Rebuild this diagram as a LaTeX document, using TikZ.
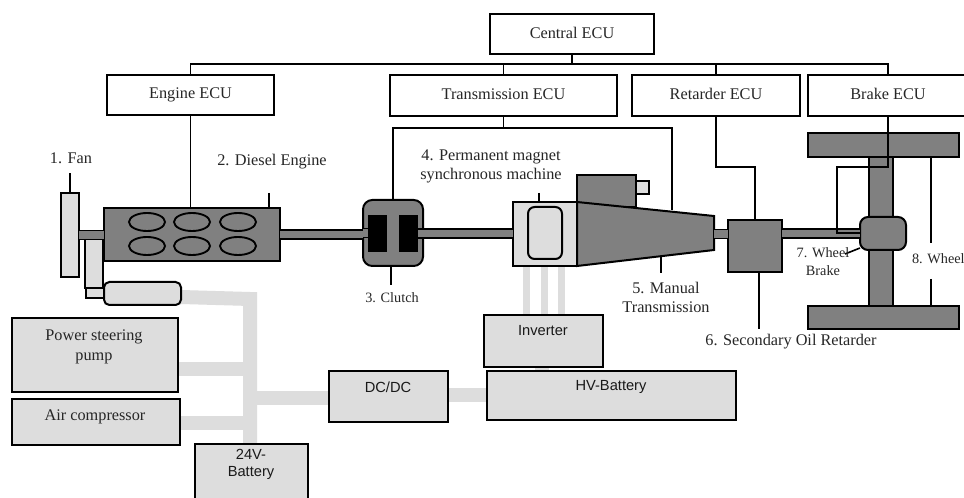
\documentclass[tikz,border=0pt]{standalone}
\usepackage{fontspec}
\setmainfont{Liberation Serif}
\setsansfont{Liberation Sans}
\usetikzlibrary{calc}
\definecolor{darkfill}{HTML}{808080}
\definecolor{lightfill}{HTML}{DDDDDD}
\pgfdeclarelayer{paper}
\pgfdeclarelayer{bands}
\pgfsetlayers{paper,bands,main}
\tikzset{
  every node/.style={inner sep=0pt,outer sep=0pt},
  ecu/.style={draw=black,fill=white,line width=0.9pt,text=black!85,font=\fontsize{12.2}{14.25}\selectfont},
  dark/.style={draw=black,fill=darkfill,line width=1.5pt},
  light/.style={draw=black,fill=lightfill,line width=1.5pt},
  blackblock/.style={draw=none,fill=black},
  rnd/.style={rounded corners=4pt},
  wire/.style={draw=black,line width=0.9pt},
  stub/.style={draw=black,line width=1.2pt},
  shaft/.style={draw=black,line width=1.35pt,double=darkfill,double distance=5.4pt},
  band/.style={draw=lightfill,line width=10.5pt},
  thinband/.style={draw=lightfill,line width=5.2pt},
  lab/.style={text=black!85,align=center,font=\fontsize{12.2}{14.25}\selectfont},
  smalllab/.style={text=black!85,align=center,font=\fontsize{10.7}{13.5}\selectfont},
  sanslab/.style={text=black!90,align=center,font=\sffamily\fontsize{11}{12.7}\selectfont},
}
\newcommand{\bx}[7]{\node[#2,minimum width={(#5-#3)*0.75pt},minimum height={(#6-#4)*0.75pt}] (#1) at ({(#3+#5)/2},{(#4+#6)/2}) {#7};}
\begin{document}
\begin{tikzpicture}[x=0.75pt,y=-0.75pt]
\useasboundingbox (0,0) rectangle (964,498);
\begin{pgfonlayer}{paper}
\fill[white] (0,0) rectangle (964,498);
\end{pgfonlayer}
\clip (0,0) rectangle (964,498);

% ECUs
\bx{central}{ecu}{490}{14}{654}{54}{\raisebox{1pt}{Central ECU}}
\bx{engecu}{ecu}{107}{75}{274}{115}{\raisebox{2pt}{Engine ECU}}
\bx{transecu}{ecu}{390}{75}{617}{116}{\raisebox{1.5pt}{Transmission ECU}}
\bx{retecu}{ecu}{632}{75}{800}{116}{\raisebox{2pt}{Retarder ECU}}
\bx{brakeecu}{ecu}{808}{75}{968}{116}{\raisebox{2pt}{Brake ECU}}

% Electrical boxes
\bx{pump}{light}{12}{318}{178}{392}{}
\bx{aircomp}{light}{12}{399}{180}{445}{}
\bx{alt}{light,rnd}{104}{282}{181}{305}{}
\bx{dcdc}{light}{329}{371}{448}{422}{}
\bx{batt}{light}{195}{444}{308}{520}{}
\bx{inverter}{light}{484}{315}{603}{367}{}
\bx{hv}{light}{487}{371}{736}{420}{}
\bx{motor}{light}{513}{202}{577}{266}{}

% Power bands, behind the boxes
\begin{pgfonlayer}{bands}
\coordinate (trunktop) at (250,299);
\coordinate (trunkbranch) at (250,398);
\draw[band] ($(alt.east)+(0,3.5)$) -- (trunktop) -- (trunktop |- batt.north);
\draw[band] ($(pump.east)+(0,14.5)$) -- ($(trunktop |- pump.east)+(0,14.5)$);
\draw[band] ($(aircomp.east)+(0,1.5)$) -- ($(trunktop |- aircomp.east)+(0,1.5)$);
\draw[band] (trunkbranch) -- (trunkbranch -| dcdc.west);
\draw[band] ($(dcdc.east)+(0,-1)$) -- ($(hv.west |- dcdc.east)+(0,-1)$);
\draw[band] ($(inverter.south)+(-2,0)$) -- ($(inverter.south)+(-2,4)$);
\draw[thinband] ($(motor.south)+(-18.5,0)$) -- ($(motor.south)+(-18.5,49)$);
\draw[thinband] ($(motor.south)+(-0.5,0)$) -- ($(motor.south)+(-0.5,49)$);
\draw[thinband] ($(motor.south)+(16.5,0)$) -- ($(motor.south)+(16.5,49)$);
\end{pgfonlayer}

% Fan and pulley parts
\bx{fan}{light}{61}{193}{79}{277}{}
\bx{belt}{light}{85}{239}{103}{288}{}
\bx{pulley}{light}{86}{288}{104}{298}{}
\bx{engine}{dark}{104}{208}{280}{261}{}
\foreach \cx/\cy in {147/222,192/222,238/222,147/246,192/246,238/246}
  \draw[line width=1.4pt] (\cx,\cy) circle[x radius=18,y radius=9];

% Clutch
\bx{clutch}{dark,rounded corners=7pt}{363}{200}{423}{266}{}
\bx{discL}{blackblock}{368}{215}{387}{252}{}
\bx{discR}{blackblock}{399}{215}{418}{252}{}

% Motor and transmission
\bx{motorinner}{light,rounded corners=5pt}{528}{207}{562}{259}{}
\bx{actuator}{dark}{577}{175}{636}{207}{}
\bx{actuatorend}{light}{636}{181}{649}{194}{}
\coordinate (tA) at (motor.north east);
\coordinate (tB) at (714,216);
\coordinate (tC) at (714,250);
\coordinate (tD) at (motor.south east);
\draw[dark,line join=miter] (tA) -- (tB) -- (tC) -- (tD) -- cycle;
\coordinate (tOut) at (714,234);

% Retarder
\bx{retarder}{dark}{728}{220}{782}{272}{}

% Axle and wheels
\bx{wheeltop}{dark}{808}{133}{959}{157}{}
\bx{wheelbot}{dark}{808}{306}{959}{329}{}
\bx{axle}{dark}{869}{157}{893}{306}{}
\bx{hub}{dark,rounded corners=6pt}{860}{217}{906}{250}{}

% Shafts
\draw[shaft] (fan.east) -- (fan.east -| engine.west);
\draw[shaft] (engine.east) -- (engine.east -| clutch.west);
\draw[shaft] (discR.east) -- (discR.east -| motor.west);
\draw[shaft] (tOut) -- (tOut -| retarder.west);
\draw[shaft] (hub.west) -- (hub.west -| retarder.east);
\draw[shaft] (clutch.west) -- (clutch.west -| discL.west);

% Network wires
\coordinate (busL) at ($(central.south)+(-381,10)$);
\draw[wire] (central.south) -- ++(0,10);
\draw[wire] (engecu.north) -- (engecu.north |- busL) -- (brakeecu.north |- busL) -- (brakeecu.north);
\draw[wire] (transecu.north) -- (transecu.north |- busL);
\draw[wire] (retecu.north) -- (retecu.north |- busL);
\draw[wire] (engecu.south) -- (engecu.south |- engine.north);
\coordinate (tloop) at ($(transecu.south)+(0,12)$);
\draw[wire] (transecu.south) -- (tloop);
\draw[wire] (clutch.north) |- (tloop);
\coordinate (tright) at (672,210);
\draw[wire] (tloop) -| (tright);
\coordinate (rbend) at (retecu.south |- 0,167);
\draw[wire] (retecu.south) -- (rbend) -| (retarder.north);
\coordinate (bbend) at (brakeecu.south |- 0,167);
\coordinate (bend2) at (837,167);
\coordinate (bend3) at (837,233);
\draw[wire] (brakeecu.south) -- (bbend) -- (bend2) -- (bend3) -- (bend3 -| hub.west);

% Label leader stubs
\coordinate (fanend) at (70,173);
\draw[stub] (fan.north) -- (fanend);
\coordinate (engend) at (269,193);
\draw[stub] (engend) -- (engend |- engine.north);
\coordinate (clend) at (391,285);
\draw[stub] ($(clutch.south)+(-2,0)$) -- (clend);
\coordinate (motend) at (539,193);
\draw[stub] (motend) -- (motend |- motor.north);
\coordinate (trend) at (661,273);
\coordinate (trbase) at (661,257);
\draw[stub] (trbase) -- (trend);
\coordinate (retend) at (759,329);
\draw[stub] (retend |- retarder.south) -- (retend);
\coordinate (whbrend) at (845,254);
\draw[stub] ($(hub.south west)+(0,-2)$) -- (whbrend);
\coordinate (w8a) at (931,243);
\coordinate (w8b) at (931,279);
\draw[stub] (w8a |- wheeltop.south) -- (w8a);
\draw[stub] (w8b) -- (w8b |- wheelbot.north);

% Text labels
\node[lab] (l1) at (71,158) {1. Fan};
\node[lab] (l2) at (272,162) {2. Diesel Engine};
\node[smalllab] (l3) at (392,298) {3. Clutch};
\node[lab] (l4) at (491,166) {4. Permanent magnet\\synchronous machine};
\node[lab] (l5) at (666,297) {5. Manual\\Transmission};
\node[lab] (l6) at (791,342) {6. Secondary Oil Retarder};
\node[smalllab] (l7) at (823,262) {7. Wheel\\Brake};
\node[smalllab,anchor=west] (l8) at (912,259) {8. Wheel};
\node[lab,font=\fontsize{12.2}{15}\selectfont] (lp) at (94,347) {Power steering\\pump};
\node[lab] (la) at (95,417) {Air compressor};
\node[sanslab] (lb) at (251,464) {24V-\\Battery};
\node[sanslab] (ld) at (388,387) {DC/DC};
\node[sanslab] (li) at (543,331) {Inverter};
\node[sanslab] (lh) at (611,387) {HV-Battery};
\end{tikzpicture}
\end{document}
